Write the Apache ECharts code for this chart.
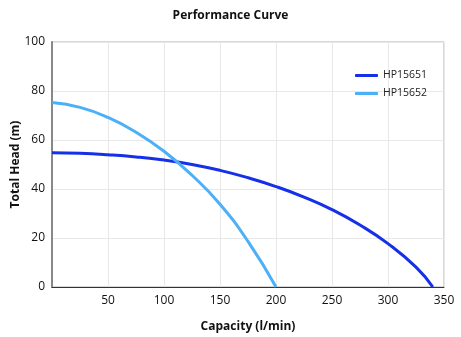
<!DOCTYPE html>
<html><head><meta charset="utf-8">
<script src="https://cdn.jsdelivr.net/npm/echarts@6/dist/echarts.min.js"></script>
<style>html,body{margin:0;padding:0;background:#fff}#c{width:461px;height:337px}</style>
</head><body><div id="c"></div>
<script>
const seriesNames = ['HP15651', 'HP15652'];
const capacity1 = [0, 25, 50, 75, 100, 125, 150, 175, 200, 225, 250, 275, 300, 325, 340];
const head1 = [54.8, 54.6, 54.0, 53.1, 51.8, 50.0, 47.6, 44.6, 41, 36.7, 31.6, 25.3, 17.7, 8.1, 0];
const capacity2 = [0, 25, 50, 75, 100, 125, 150, 175, 200];
const head2 = [75.3, 73.3, 69.2, 63.2, 55.4, 45.6, 33.8, 18.6, 0];
const xTicks = [0, 50, 100, 150, 200, 250, 300, 350];
const yTicks = [0, 20, 40, 60, 80, 100];

const font = '"Open Sans", "Noto Sans", sans-serif';
const chart = echarts.init(document.getElementById('c'), null, {renderer: 'canvas'});
chart.setOption({
  animation: false,
  title: {text: 'Performance Curve', left: 'center', top: 5,
    textStyle: {fontFamily: font, fontSize: 12, fontWeight: 'bold', color: '#111'}},
  grid: {left: 52, right: 17, top: 42, bottom: 50, outerBoundsMode: 'none', containLabel: false,
    show: true, borderColor: '#b0b0b0', borderWidth: 1},
  legend: {orient: 'vertical', left: 350, top: 65, itemWidth: 23, itemHeight: 3, itemGap: 7,
    icon: 'roundRect',
    textStyle: {fontFamily: font, fontSize: 10.5, color: '#222'},
    data: seriesNames},
  xAxis: {type: 'value', min: xTicks[0], max: xTicks[xTicks.length - 1], interval: 50,
    name: 'Capacity (l/min)', nameLocation: 'middle', nameGap: 34, nameMoveOverlap: false,
    nameTextStyle: {fontFamily: font, fontSize: 12, fontWeight: 'bold', color: '#111'},
    axisLine: {show: true, lineStyle: {color: '#333', width: 1}},
    axisTick: {show: false},
    axisLabel: {showMinLabel: false, fontFamily: font, fontSize: 12, color: '#111', margin: 8},
    splitLine: {show: true, lineStyle: {color: '#e8e8e8'}}},
  yAxis: {type: 'value', min: yTicks[0], max: yTicks[yTicks.length - 1], interval: 20,
    name: 'Total Head (m)', nameLocation: 'middle', nameGap: 30, nameMoveOverlap: false,
    nameTextStyle: {fontFamily: font, fontSize: 12, fontWeight: 'bold', color: '#111'},
    axisLine: {show: true, lineStyle: {color: '#888', width: 2}},
    axisTick: {show: false},
    axisLabel: {fontFamily: font, fontSize: 12, color: '#111', margin: 7},
    splitLine: {show: true, lineStyle: {color: '#e8e8e8'}}},
  series: [
    {name: seriesNames[0], type: 'line', smooth: 0.5, showSymbol: false,
     lineStyle: {color: '#1530e8', width: 3}, itemStyle: {color: '#1530e8'},
     data: capacity1.map((x, i) => [x, head1[i]])},
    {name: seriesNames[1], type: 'line', smooth: 0.5, showSymbol: false,
     lineStyle: {color: '#4cb0f8', width: 3}, itemStyle: {color: '#4cb0f8'},
     data: capacity2.map((x, i) => [x, head2[i]])}
  ]
});
</script></body></html>
